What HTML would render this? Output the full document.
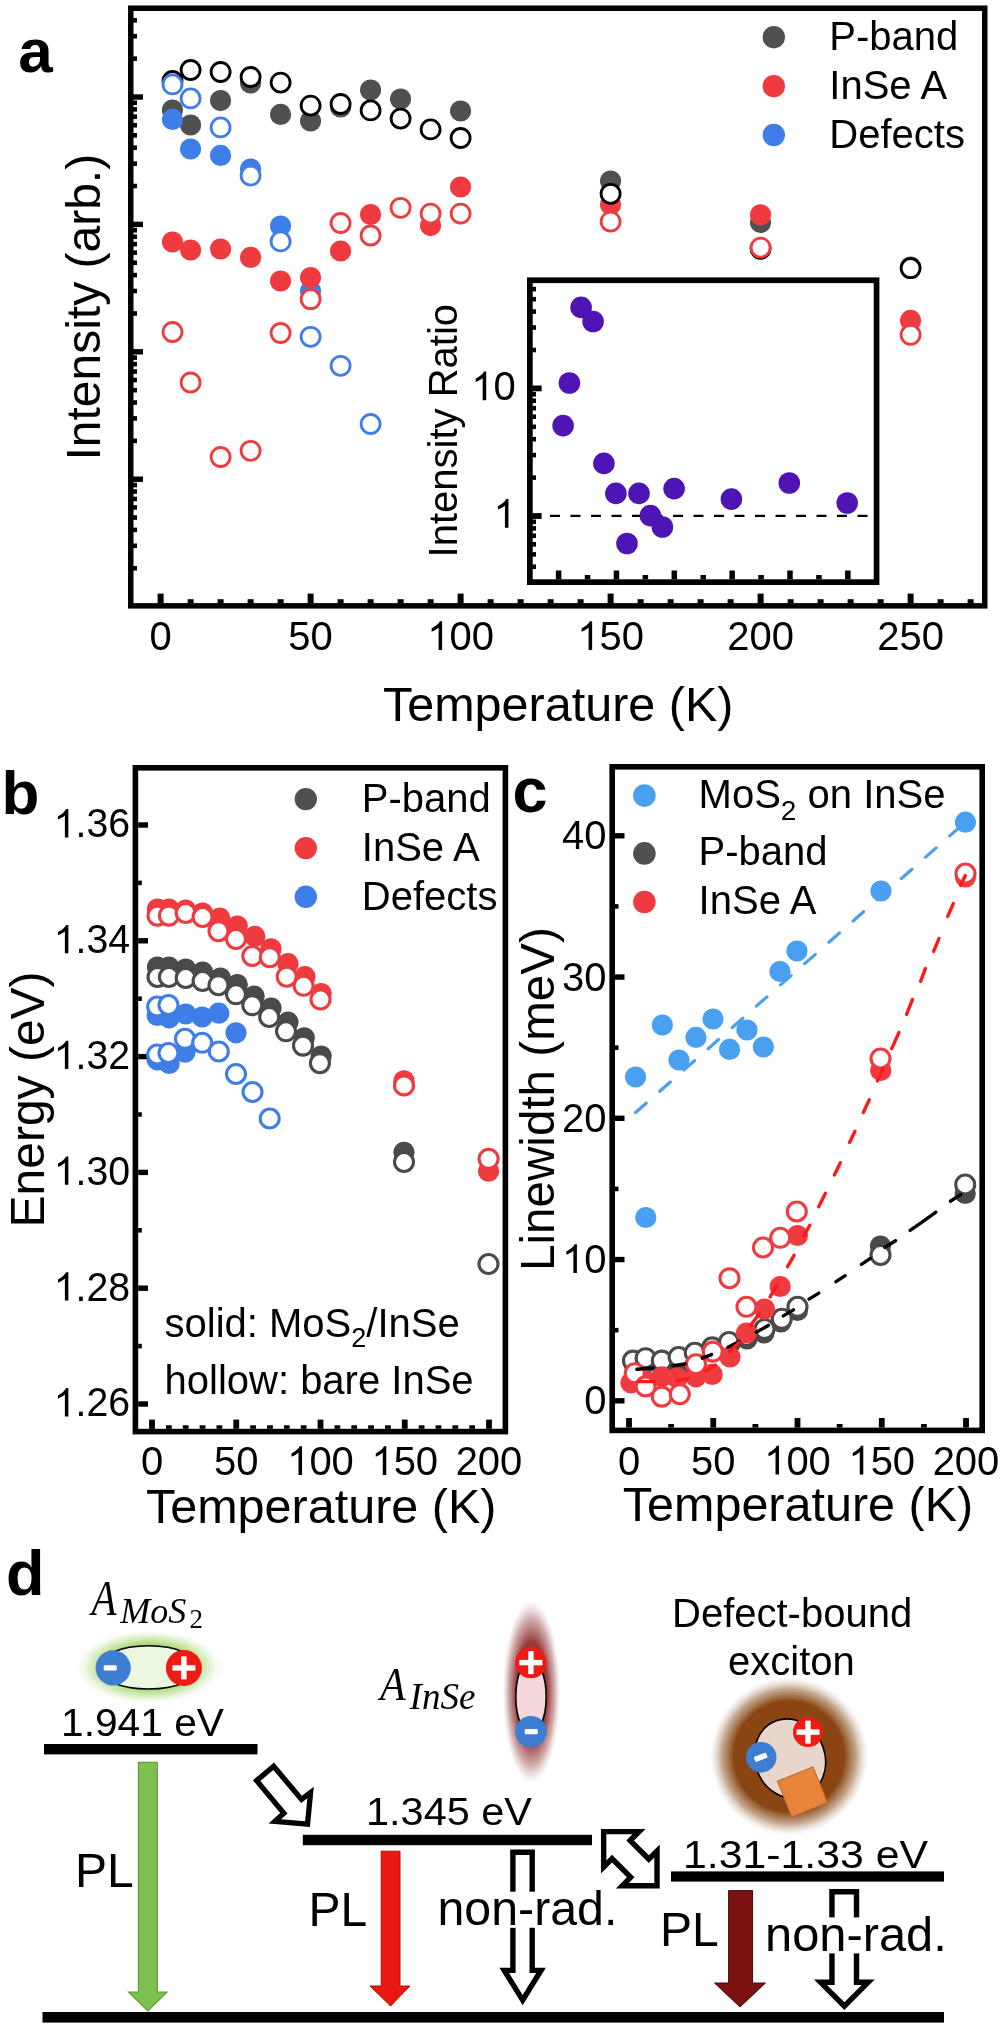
<!DOCTYPE html>
<html><head><meta charset="utf-8"><style>
html,body{margin:0;padding:0;background:#fff;width:1000px;height:2029px;overflow:hidden;}
svg{display:block;will-change:transform;}
text{font-family:"Liberation Sans",sans-serif;fill:#000;}
</style></head><body>
<svg width="1000" height="2029" viewBox="0 0 1000 2029">
<rect width="1000" height="2029" fill="#fff"/>
<rect x="130.75" y="8.25" width="854.0" height="597.6" fill="none" stroke="#000" stroke-width="5.5"/>
<rect x="133.00" y="565.95" width="4.00" height="4.60" fill="#000"/>
<rect x="133.00" y="543.51" width="4.00" height="4.60" fill="#000"/>
<rect x="133.00" y="527.60" width="4.00" height="4.60" fill="#000"/>
<rect x="133.00" y="515.25" width="4.00" height="4.60" fill="#000"/>
<rect x="133.00" y="505.16" width="4.00" height="4.60" fill="#000"/>
<rect x="133.00" y="496.63" width="4.00" height="4.60" fill="#000"/>
<rect x="133.00" y="489.25" width="4.00" height="4.60" fill="#000"/>
<rect x="133.00" y="482.73" width="4.00" height="4.60" fill="#000"/>
<rect x="133.00" y="476.50" width="10.00" height="5.40" fill="#000"/>
<rect x="133.00" y="438.55" width="4.00" height="4.60" fill="#000"/>
<rect x="133.00" y="416.11" width="4.00" height="4.60" fill="#000"/>
<rect x="133.00" y="400.20" width="4.00" height="4.60" fill="#000"/>
<rect x="133.00" y="387.85" width="4.00" height="4.60" fill="#000"/>
<rect x="133.00" y="377.76" width="4.00" height="4.60" fill="#000"/>
<rect x="133.00" y="369.23" width="4.00" height="4.60" fill="#000"/>
<rect x="133.00" y="361.85" width="4.00" height="4.60" fill="#000"/>
<rect x="133.00" y="355.33" width="4.00" height="4.60" fill="#000"/>
<rect x="133.00" y="349.10" width="10.00" height="5.40" fill="#000"/>
<rect x="133.00" y="311.15" width="4.00" height="4.60" fill="#000"/>
<rect x="133.00" y="288.71" width="4.00" height="4.60" fill="#000"/>
<rect x="133.00" y="272.80" width="4.00" height="4.60" fill="#000"/>
<rect x="133.00" y="260.45" width="4.00" height="4.60" fill="#000"/>
<rect x="133.00" y="250.36" width="4.00" height="4.60" fill="#000"/>
<rect x="133.00" y="241.83" width="4.00" height="4.60" fill="#000"/>
<rect x="133.00" y="234.45" width="4.00" height="4.60" fill="#000"/>
<rect x="133.00" y="227.93" width="4.00" height="4.60" fill="#000"/>
<rect x="133.00" y="221.70" width="10.00" height="5.40" fill="#000"/>
<rect x="133.00" y="183.75" width="4.00" height="4.60" fill="#000"/>
<rect x="133.00" y="161.31" width="4.00" height="4.60" fill="#000"/>
<rect x="133.00" y="145.40" width="4.00" height="4.60" fill="#000"/>
<rect x="133.00" y="133.05" width="4.00" height="4.60" fill="#000"/>
<rect x="133.00" y="122.96" width="4.00" height="4.60" fill="#000"/>
<rect x="133.00" y="114.43" width="4.00" height="4.60" fill="#000"/>
<rect x="133.00" y="107.05" width="4.00" height="4.60" fill="#000"/>
<rect x="133.00" y="100.53" width="4.00" height="4.60" fill="#000"/>
<rect x="133.00" y="94.30" width="10.00" height="5.40" fill="#000"/>
<rect x="133.00" y="56.35" width="4.00" height="4.60" fill="#000"/>
<rect x="133.00" y="33.91" width="4.00" height="4.60" fill="#000"/>
<rect x="133.00" y="18.00" width="4.00" height="4.60" fill="#000"/>
<rect x="157.60" y="593.60" width="6.00" height="9.90" fill="#000"/>
<rect x="187.60" y="599.20" width="6.00" height="4.30" fill="#000"/>
<rect x="217.60" y="599.20" width="6.00" height="4.30" fill="#000"/>
<rect x="247.60" y="599.20" width="6.00" height="4.30" fill="#000"/>
<rect x="277.60" y="599.20" width="6.00" height="4.30" fill="#000"/>
<rect x="307.60" y="593.60" width="6.00" height="9.90" fill="#000"/>
<rect x="337.60" y="599.20" width="6.00" height="4.30" fill="#000"/>
<rect x="367.60" y="599.20" width="6.00" height="4.30" fill="#000"/>
<rect x="397.60" y="599.20" width="6.00" height="4.30" fill="#000"/>
<rect x="427.60" y="599.20" width="6.00" height="4.30" fill="#000"/>
<rect x="457.60" y="593.60" width="6.00" height="9.90" fill="#000"/>
<rect x="487.60" y="599.20" width="6.00" height="4.30" fill="#000"/>
<rect x="517.60" y="599.20" width="6.00" height="4.30" fill="#000"/>
<rect x="547.60" y="599.20" width="6.00" height="4.30" fill="#000"/>
<rect x="577.60" y="599.20" width="6.00" height="4.30" fill="#000"/>
<rect x="607.60" y="593.60" width="6.00" height="9.90" fill="#000"/>
<rect x="637.60" y="599.20" width="6.00" height="4.30" fill="#000"/>
<rect x="667.60" y="599.20" width="6.00" height="4.30" fill="#000"/>
<rect x="697.60" y="599.20" width="6.00" height="4.30" fill="#000"/>
<rect x="727.60" y="599.20" width="6.00" height="4.30" fill="#000"/>
<rect x="757.60" y="593.60" width="6.00" height="9.90" fill="#000"/>
<rect x="787.60" y="599.20" width="6.00" height="4.30" fill="#000"/>
<rect x="817.60" y="599.20" width="6.00" height="4.30" fill="#000"/>
<rect x="847.60" y="599.20" width="6.00" height="4.30" fill="#000"/>
<rect x="877.60" y="599.20" width="6.00" height="4.30" fill="#000"/>
<rect x="907.60" y="593.60" width="6.00" height="9.90" fill="#000"/>
<rect x="937.60" y="599.20" width="6.00" height="4.30" fill="#000"/>
<rect x="967.60" y="599.20" width="6.00" height="4.30" fill="#000"/>
<text transform="translate(149.48,650.00) scale(1,1.035)" x="0" y="0" font-size="40">0</text>
<text transform="translate(288.35,650.00) scale(1,1.035)" x="0" y="0" font-size="40">50</text>
<path d="M763 0L583 0L583 1147C540 1106 483 1064 413 1023C343 982 280 951 224 931L224 1105C325 1152 413 1210 488 1278C563 1346 616 1412 647 1476L763 1476Z" transform="translate(427.23,650.00) scale(0.01953,-0.01953)" fill="#000"/>
<text transform="translate(449.48,650.00) scale(1,1.035)" x="0" y="0" font-size="40">00</text>
<path d="M763 0L583 0L583 1147C540 1106 483 1064 413 1023C343 982 280 951 224 931L224 1105C325 1152 413 1210 488 1278C563 1346 616 1412 647 1476L763 1476Z" transform="translate(577.23,650.00) scale(0.01953,-0.01953)" fill="#000"/>
<text transform="translate(599.48,650.00) scale(1,1.035)" x="0" y="0" font-size="40">50</text>
<text transform="translate(727.23,650.00) scale(1,1.035)" x="0" y="0" font-size="40">200</text>
<text transform="translate(877.23,650.00) scale(1,1.035)" x="0" y="0" font-size="40">250</text>
<text x="383.0" y="721.2" font-size="48.5" text-anchor="start" >Temperature (K)</text>
<text transform="translate(100,460.6) rotate(-90)" font-size="48">Intensity (arb.)</text>
<text x="18.3" y="71.8" font-size="62" font-weight="bold">a</text>
<circle cx="172.5" cy="110.0" r="10.6" fill="#505050"/>
<circle cx="190.6" cy="125.0" r="10.6" fill="#505050"/>
<circle cx="220.6" cy="100.6" r="10.6" fill="#505050"/>
<circle cx="250.6" cy="83.0" r="10.6" fill="#505050"/>
<circle cx="280.6" cy="114.4" r="10.6" fill="#505050"/>
<circle cx="310.6" cy="121.0" r="10.6" fill="#505050"/>
<circle cx="340.6" cy="107.0" r="10.6" fill="#505050"/>
<circle cx="370.6" cy="90.0" r="10.6" fill="#505050"/>
<circle cx="400.6" cy="99.0" r="10.6" fill="#505050"/>
<circle cx="460.6" cy="111.0" r="10.6" fill="#505050"/>
<circle cx="610.6" cy="181.0" r="10.6" fill="#505050"/>
<circle cx="760.6" cy="222.4" r="10.6" fill="#505050"/>
<circle cx="910.6" cy="267.0" r="10.6" fill="#505050"/>
<circle cx="172.5" cy="119.4" r="10.6" fill="#3f7de8"/>
<circle cx="190.6" cy="149.0" r="10.6" fill="#3f7de8"/>
<circle cx="220.6" cy="155.4" r="10.6" fill="#3f7de8"/>
<circle cx="250.6" cy="169.0" r="10.6" fill="#3f7de8"/>
<circle cx="280.6" cy="226.0" r="10.6" fill="#3f7de8"/>
<circle cx="310.6" cy="291.0" r="10.6" fill="#3f7de8"/>
<circle cx="172.5" cy="242.0" r="10.6" fill="#ef3b40"/>
<circle cx="190.6" cy="250.0" r="10.6" fill="#ef3b40"/>
<circle cx="220.6" cy="249.0" r="10.6" fill="#ef3b40"/>
<circle cx="250.6" cy="257.4" r="10.6" fill="#ef3b40"/>
<circle cx="280.6" cy="281.0" r="10.6" fill="#ef3b40"/>
<circle cx="310.6" cy="277.5" r="10.6" fill="#ef3b40"/>
<circle cx="340.6" cy="251.0" r="10.6" fill="#ef3b40"/>
<circle cx="370.6" cy="214.6" r="10.6" fill="#ef3b40"/>
<circle cx="430.6" cy="225.6" r="10.6" fill="#ef3b40"/>
<circle cx="460.6" cy="187.0" r="10.6" fill="#ef3b40"/>
<circle cx="610.6" cy="204.4" r="10.6" fill="#ef3b40"/>
<circle cx="760.6" cy="214.8" r="10.6" fill="#ef3b40"/>
<circle cx="910.6" cy="320.4" r="10.6" fill="#ef3b40"/>
<circle cx="172.5" cy="81.0" r="9.5" fill="#fff" stroke="#000" stroke-width="2.8"/>
<circle cx="190.6" cy="70.0" r="9.5" fill="#fff" stroke="#000" stroke-width="2.8"/>
<circle cx="220.6" cy="72.0" r="9.5" fill="#fff" stroke="#000" stroke-width="2.8"/>
<circle cx="250.6" cy="77.0" r="9.5" fill="#fff" stroke="#000" stroke-width="2.8"/>
<circle cx="280.6" cy="82.6" r="9.5" fill="#fff" stroke="#000" stroke-width="2.8"/>
<circle cx="310.6" cy="105.6" r="9.5" fill="#fff" stroke="#000" stroke-width="2.8"/>
<circle cx="340.6" cy="104.0" r="9.5" fill="#fff" stroke="#000" stroke-width="2.8"/>
<circle cx="370.6" cy="110.4" r="9.5" fill="#fff" stroke="#000" stroke-width="2.8"/>
<circle cx="400.6" cy="118.6" r="9.5" fill="#fff" stroke="#000" stroke-width="2.8"/>
<circle cx="430.6" cy="129.4" r="9.5" fill="#fff" stroke="#000" stroke-width="2.8"/>
<circle cx="460.6" cy="138.0" r="9.5" fill="#fff" stroke="#000" stroke-width="2.8"/>
<circle cx="610.6" cy="193.8" r="9.5" fill="#fff" stroke="#000" stroke-width="2.8"/>
<circle cx="760.6" cy="248.8" r="9.5" fill="#fff" stroke="#000" stroke-width="2.8"/>
<circle cx="910.6" cy="268.2" r="9.5" fill="#fff" stroke="#000" stroke-width="2.8"/>
<circle cx="172.5" cy="332.0" r="9.5" fill="#fff" stroke="#ef3b40" stroke-width="2.8"/>
<circle cx="190.6" cy="382.5" r="9.5" fill="#fff" stroke="#ef3b40" stroke-width="2.8"/>
<circle cx="220.6" cy="457.0" r="9.5" fill="#fff" stroke="#ef3b40" stroke-width="2.8"/>
<circle cx="250.6" cy="450.8" r="9.5" fill="#fff" stroke="#ef3b40" stroke-width="2.8"/>
<circle cx="280.6" cy="333.0" r="9.5" fill="#fff" stroke="#ef3b40" stroke-width="2.8"/>
<circle cx="310.6" cy="299.2" r="9.5" fill="#fff" stroke="#ef3b40" stroke-width="2.8"/>
<circle cx="340.6" cy="223.0" r="9.5" fill="#fff" stroke="#ef3b40" stroke-width="2.8"/>
<circle cx="370.6" cy="235.5" r="9.5" fill="#fff" stroke="#ef3b40" stroke-width="2.8"/>
<circle cx="400.6" cy="207.8" r="9.5" fill="#fff" stroke="#ef3b40" stroke-width="2.8"/>
<circle cx="430.6" cy="213.6" r="9.5" fill="#fff" stroke="#ef3b40" stroke-width="2.8"/>
<circle cx="460.6" cy="213.6" r="9.5" fill="#fff" stroke="#ef3b40" stroke-width="2.8"/>
<circle cx="610.6" cy="221.6" r="9.5" fill="#fff" stroke="#ef3b40" stroke-width="2.8"/>
<circle cx="760.6" cy="247.6" r="9.5" fill="#fff" stroke="#ef3b40" stroke-width="2.8"/>
<circle cx="910.6" cy="334.8" r="9.5" fill="#fff" stroke="#ef3b40" stroke-width="2.8"/>
<circle cx="172.5" cy="84.4" r="9.5" fill="#fff" stroke="#3f7de8" stroke-width="2.8"/>
<circle cx="190.6" cy="98.4" r="9.5" fill="#fff" stroke="#3f7de8" stroke-width="2.8"/>
<circle cx="220.6" cy="127.4" r="9.5" fill="#fff" stroke="#3f7de8" stroke-width="2.8"/>
<circle cx="250.6" cy="175.6" r="9.5" fill="#fff" stroke="#3f7de8" stroke-width="2.8"/>
<circle cx="280.6" cy="241.4" r="9.5" fill="#fff" stroke="#3f7de8" stroke-width="2.8"/>
<circle cx="310.6" cy="336.8" r="9.5" fill="#fff" stroke="#3f7de8" stroke-width="2.8"/>
<circle cx="340.6" cy="365.8" r="9.5" fill="#fff" stroke="#3f7de8" stroke-width="2.8"/>
<circle cx="370.6" cy="424.0" r="9.5" fill="#fff" stroke="#3f7de8" stroke-width="2.8"/>
<circle cx="773.8" cy="37.2" r="11.2" fill="#505050"/>
<circle cx="773.8" cy="86.2" r="11.2" fill="#ef3b40"/>
<circle cx="773.8" cy="135.0" r="11.2" fill="#3f7de8"/>
<text x="829.3" y="50.4" font-size="40" text-anchor="start" >P-band</text>
<text x="829.3" y="99.4" font-size="40" text-anchor="start" >InSe A</text>
<text x="829.3" y="148.4" font-size="40" text-anchor="start" >Defects</text>
<rect x="529.85" y="280.25" width="346.7" height="301.90000000000003" fill="#fff" stroke="#000" stroke-width="5.7"/>
<rect x="532.20" y="564.48" width="3.80" height="4.60" fill="#000"/>
<rect x="532.20" y="552.11" width="3.80" height="4.60" fill="#000"/>
<rect x="532.20" y="542.01" width="3.80" height="4.60" fill="#000"/>
<rect x="532.20" y="533.47" width="3.80" height="4.60" fill="#000"/>
<rect x="532.20" y="526.07" width="3.80" height="4.60" fill="#000"/>
<rect x="532.20" y="519.54" width="3.80" height="4.60" fill="#000"/>
<rect x="532.20" y="513.10" width="9.40" height="5.80" fill="#000"/>
<rect x="532.20" y="475.29" width="3.80" height="4.60" fill="#000"/>
<rect x="532.20" y="452.82" width="3.80" height="4.60" fill="#000"/>
<rect x="532.20" y="436.88" width="3.80" height="4.60" fill="#000"/>
<rect x="532.20" y="424.51" width="3.80" height="4.60" fill="#000"/>
<rect x="532.20" y="414.41" width="3.80" height="4.60" fill="#000"/>
<rect x="532.20" y="405.87" width="3.80" height="4.60" fill="#000"/>
<rect x="532.20" y="398.47" width="3.80" height="4.60" fill="#000"/>
<rect x="532.20" y="391.94" width="3.80" height="4.60" fill="#000"/>
<rect x="532.20" y="385.50" width="9.40" height="5.80" fill="#000"/>
<rect x="532.20" y="347.69" width="3.80" height="4.60" fill="#000"/>
<rect x="532.20" y="325.22" width="3.80" height="4.60" fill="#000"/>
<rect x="532.20" y="309.28" width="3.80" height="4.60" fill="#000"/>
<rect x="532.20" y="296.91" width="3.80" height="4.60" fill="#000"/>
<rect x="532.20" y="286.81" width="3.80" height="4.60" fill="#000"/>
<rect x="555.85" y="570.50" width="5.50" height="8.80" fill="#000"/>
<rect x="584.77" y="575.00" width="5.50" height="4.30" fill="#000"/>
<rect x="613.70" y="570.50" width="5.50" height="8.80" fill="#000"/>
<rect x="642.62" y="575.00" width="5.50" height="4.30" fill="#000"/>
<rect x="671.55" y="570.50" width="5.50" height="8.80" fill="#000"/>
<rect x="700.48" y="575.00" width="5.50" height="4.30" fill="#000"/>
<rect x="729.40" y="570.50" width="5.50" height="8.80" fill="#000"/>
<rect x="758.33" y="575.00" width="5.50" height="4.30" fill="#000"/>
<rect x="787.25" y="570.50" width="5.50" height="8.80" fill="#000"/>
<rect x="816.17" y="575.00" width="5.50" height="4.30" fill="#000"/>
<rect x="845.10" y="570.50" width="5.50" height="8.80" fill="#000"/>
<line x1="550" y1="515.9" x2="873" y2="515.9" stroke="#000" stroke-width="2.2" stroke-dasharray="10 10.5"/>
<circle cx="581.1" cy="307.4" r="10.8" fill="#4f14b4"/>
<circle cx="593.1" cy="321.5" r="10.8" fill="#4f14b4"/>
<circle cx="569.4" cy="383.0" r="10.8" fill="#4f14b4"/>
<circle cx="563.1" cy="425.6" r="10.8" fill="#4f14b4"/>
<circle cx="603.9" cy="463.4" r="10.8" fill="#4f14b4"/>
<circle cx="615.9" cy="493.4" r="10.8" fill="#4f14b4"/>
<circle cx="639.0" cy="493.4" r="10.8" fill="#4f14b4"/>
<circle cx="650.4" cy="515.6" r="10.8" fill="#4f14b4"/>
<circle cx="662.4" cy="527.0" r="10.8" fill="#4f14b4"/>
<circle cx="627.0" cy="543.5" r="10.8" fill="#4f14b4"/>
<circle cx="674.1" cy="488.6" r="10.8" fill="#4f14b4"/>
<circle cx="731.4" cy="499.1" r="10.8" fill="#4f14b4"/>
<circle cx="789.3" cy="483.0" r="10.8" fill="#4f14b4"/>
<circle cx="847.2" cy="503.0" r="10.8" fill="#4f14b4"/>
<path d="M763 0L583 0L583 1147C540 1106 483 1064 413 1023C343 982 280 951 224 931L224 1105C325 1152 413 1210 488 1278C563 1346 616 1412 647 1476L763 1476Z" transform="translate(471.31,400.30) scale(0.01953,-0.01953)" fill="#000"/>
<text transform="translate(493.55,400.30) scale(1,1.035)" x="0" y="0" font-size="40">0</text>
<path d="M763 0L583 0L583 1147C540 1106 483 1064 413 1023C343 982 280 951 224 931L224 1105C325 1152 413 1210 488 1278C563 1346 616 1412 647 1476L763 1476Z" transform="translate(493.55,527.80) scale(0.01953,-0.01953)" fill="#000"/>
<text transform="translate(456.6,557.4) rotate(-90)" font-size="40">Intensity Ratio</text>
<rect x="135.4" y="767.8" width="370.0" height="663.8000000000001" fill="none" stroke="#000" stroke-width="5.6"/>
<rect x="138.20" y="822.30" width="9.80" height="5.40" fill="#000"/>
<path d="M763 0L583 0L583 1147C540 1106 483 1064 413 1023C343 982 280 951 224 931L224 1105C325 1152 413 1210 488 1278C563 1346 616 1412 647 1476L763 1476Z" transform="translate(53.71,837.40) scale(0.01919,-0.01919)" fill="#000"/>
<text transform="translate(75.57,837.40) scale(1,1.035)" x="0" y="0" font-size="39.3">.36</text>
<rect x="138.20" y="938.10" width="9.80" height="5.40" fill="#000"/>
<path d="M763 0L583 0L583 1147C540 1106 483 1064 413 1023C343 982 280 951 224 931L224 1105C325 1152 413 1210 488 1278C563 1346 616 1412 647 1476L763 1476Z" transform="translate(53.71,953.20) scale(0.01919,-0.01919)" fill="#000"/>
<text transform="translate(75.57,953.20) scale(1,1.035)" x="0" y="0" font-size="39.3">.34</text>
<rect x="138.20" y="880.60" width="3.60" height="4.60" fill="#000"/>
<rect x="138.20" y="1053.90" width="9.80" height="5.40" fill="#000"/>
<path d="M763 0L583 0L583 1147C540 1106 483 1064 413 1023C343 982 280 951 224 931L224 1105C325 1152 413 1210 488 1278C563 1346 616 1412 647 1476L763 1476Z" transform="translate(53.71,1069.00) scale(0.01919,-0.01919)" fill="#000"/>
<text transform="translate(75.57,1069.00) scale(1,1.035)" x="0" y="0" font-size="39.3">.32</text>
<rect x="138.20" y="996.40" width="3.60" height="4.60" fill="#000"/>
<rect x="138.20" y="1169.70" width="9.80" height="5.40" fill="#000"/>
<path d="M763 0L583 0L583 1147C540 1106 483 1064 413 1023C343 982 280 951 224 931L224 1105C325 1152 413 1210 488 1278C563 1346 616 1412 647 1476L763 1476Z" transform="translate(53.71,1184.80) scale(0.01919,-0.01919)" fill="#000"/>
<text transform="translate(75.57,1184.80) scale(1,1.035)" x="0" y="0" font-size="39.3">.30</text>
<rect x="138.20" y="1112.20" width="3.60" height="4.60" fill="#000"/>
<rect x="138.20" y="1285.50" width="9.80" height="5.40" fill="#000"/>
<path d="M763 0L583 0L583 1147C540 1106 483 1064 413 1023C343 982 280 951 224 931L224 1105C325 1152 413 1210 488 1278C563 1346 616 1412 647 1476L763 1476Z" transform="translate(53.71,1300.60) scale(0.01919,-0.01919)" fill="#000"/>
<text transform="translate(75.57,1300.60) scale(1,1.035)" x="0" y="0" font-size="39.3">.28</text>
<rect x="138.20" y="1228.00" width="3.60" height="4.60" fill="#000"/>
<rect x="138.20" y="1401.30" width="9.80" height="5.40" fill="#000"/>
<path d="M763 0L583 0L583 1147C540 1106 483 1064 413 1023C343 982 280 951 224 931L224 1105C325 1152 413 1210 488 1278C563 1346 616 1412 647 1476L763 1476Z" transform="translate(53.71,1416.40) scale(0.01919,-0.01919)" fill="#000"/>
<text transform="translate(75.57,1416.40) scale(1,1.035)" x="0" y="0" font-size="39.3">.26</text>
<rect x="138.20" y="1343.80" width="3.60" height="4.60" fill="#000"/>
<rect x="149.10" y="1419.60" width="5.80" height="9.20" fill="#000"/>
<rect x="165.95" y="1425.30" width="5.80" height="3.50" fill="#000"/>
<rect x="182.80" y="1425.30" width="5.80" height="3.50" fill="#000"/>
<rect x="199.65" y="1425.30" width="5.80" height="3.50" fill="#000"/>
<rect x="216.50" y="1425.30" width="5.80" height="3.50" fill="#000"/>
<rect x="233.35" y="1419.60" width="5.80" height="9.20" fill="#000"/>
<rect x="250.20" y="1425.30" width="5.80" height="3.50" fill="#000"/>
<rect x="267.05" y="1425.30" width="5.80" height="3.50" fill="#000"/>
<rect x="283.90" y="1425.30" width="5.80" height="3.50" fill="#000"/>
<rect x="300.75" y="1425.30" width="5.80" height="3.50" fill="#000"/>
<rect x="317.60" y="1419.60" width="5.80" height="9.20" fill="#000"/>
<rect x="334.45" y="1425.30" width="5.80" height="3.50" fill="#000"/>
<rect x="351.30" y="1425.30" width="5.80" height="3.50" fill="#000"/>
<rect x="368.15" y="1425.30" width="5.80" height="3.50" fill="#000"/>
<rect x="385.00" y="1425.30" width="5.80" height="3.50" fill="#000"/>
<rect x="401.85" y="1419.60" width="5.80" height="9.20" fill="#000"/>
<rect x="418.70" y="1425.30" width="5.80" height="3.50" fill="#000"/>
<rect x="435.55" y="1425.30" width="5.80" height="3.50" fill="#000"/>
<rect x="452.40" y="1425.30" width="5.80" height="3.50" fill="#000"/>
<rect x="469.25" y="1425.30" width="5.80" height="3.50" fill="#000"/>
<rect x="486.10" y="1419.60" width="5.80" height="9.20" fill="#000"/>
<text transform="translate(140.88,1475.00) scale(1,1.035)" x="0" y="0" font-size="40">0</text>
<text transform="translate(214.00,1475.00) scale(1,1.035)" x="0" y="0" font-size="40">50</text>
<path d="M763 0L583 0L583 1147C540 1106 483 1064 413 1023C343 982 280 951 224 931L224 1105C325 1152 413 1210 488 1278C563 1346 616 1412 647 1476L763 1476Z" transform="translate(287.13,1475.00) scale(0.01953,-0.01953)" fill="#000"/>
<text transform="translate(309.38,1475.00) scale(1,1.035)" x="0" y="0" font-size="40">00</text>
<path d="M763 0L583 0L583 1147C540 1106 483 1064 413 1023C343 982 280 951 224 931L224 1105C325 1152 413 1210 488 1278C563 1346 616 1412 647 1476L763 1476Z" transform="translate(371.38,1475.00) scale(0.01953,-0.01953)" fill="#000"/>
<text transform="translate(393.63,1475.00) scale(1,1.035)" x="0" y="0" font-size="40">50</text>
<text transform="translate(455.63,1475.00) scale(1,1.035)" x="0" y="0" font-size="40">200</text>
<text x="146.0" y="1523.0" font-size="48.5" text-anchor="start" >Temperature (K)</text>
<text transform="translate(44.2,1227.5) rotate(-90)" font-size="48">Energy (eV)</text>
<text x="1.5" y="813.5" font-size="62" font-weight="bold">b</text>
<circle cx="157.5" cy="967.0" r="10.6" fill="#4a4a4a"/>
<circle cx="168.9" cy="967.0" r="10.6" fill="#4a4a4a"/>
<circle cx="185.7" cy="969.0" r="10.6" fill="#4a4a4a"/>
<circle cx="202.6" cy="972.0" r="10.6" fill="#4a4a4a"/>
<circle cx="220.4" cy="978.0" r="10.6" fill="#4a4a4a"/>
<circle cx="237.3" cy="984.5" r="10.6" fill="#4a4a4a"/>
<circle cx="254.2" cy="996.2" r="10.6" fill="#4a4a4a"/>
<circle cx="271.1" cy="1008.0" r="10.6" fill="#4a4a4a"/>
<circle cx="288.0" cy="1022.2" r="10.6" fill="#4a4a4a"/>
<circle cx="304.3" cy="1037.8" r="10.6" fill="#4a4a4a"/>
<circle cx="321.2" cy="1056.0" r="10.6" fill="#4a4a4a"/>
<circle cx="404.0" cy="1152.3" r="10.6" fill="#4a4a4a"/>
<circle cx="157.5" cy="909.0" r="10.6" fill="#ef3b40"/>
<circle cx="168.9" cy="909.0" r="10.6" fill="#ef3b40"/>
<circle cx="185.7" cy="910.0" r="10.6" fill="#ef3b40"/>
<circle cx="202.6" cy="913.0" r="10.6" fill="#ef3b40"/>
<circle cx="219.8" cy="918.2" r="10.6" fill="#ef3b40"/>
<circle cx="237.3" cy="926.0" r="10.6" fill="#ef3b40"/>
<circle cx="254.9" cy="936.4" r="10.6" fill="#ef3b40"/>
<circle cx="271.0" cy="948.8" r="10.6" fill="#ef3b40"/>
<circle cx="288.0" cy="963.7" r="10.6" fill="#ef3b40"/>
<circle cx="305.0" cy="976.7" r="10.6" fill="#ef3b40"/>
<circle cx="321.2" cy="993.6" r="10.6" fill="#ef3b40"/>
<circle cx="404.0" cy="1080.8" r="10.6" fill="#ef3b40"/>
<circle cx="488.6" cy="1171.2" r="10.6" fill="#ef3b40"/>
<circle cx="157.2" cy="1015.5" r="10.6" fill="#3f7de8"/>
<circle cx="169.2" cy="1017.8" r="10.6" fill="#3f7de8"/>
<circle cx="185.8" cy="1014.0" r="10.6" fill="#3f7de8"/>
<circle cx="202.2" cy="1017.0" r="10.6" fill="#3f7de8"/>
<circle cx="218.8" cy="1013.2" r="10.6" fill="#3f7de8"/>
<circle cx="236.0" cy="1032.8" r="10.6" fill="#3f7de8"/>
<circle cx="157.2" cy="1059.8" r="10.6" fill="#3f7de8"/>
<circle cx="169.2" cy="1063.5" r="10.6" fill="#3f7de8"/>
<circle cx="185.0" cy="1052.2" r="10.6" fill="#3f7de8"/>
<circle cx="157.5" cy="977.0" r="9.5" fill="#fff" stroke="#4a4a4a" stroke-width="3.1"/>
<circle cx="168.9" cy="977.0" r="9.5" fill="#fff" stroke="#4a4a4a" stroke-width="3.1"/>
<circle cx="185.7" cy="978.0" r="9.5" fill="#fff" stroke="#4a4a4a" stroke-width="3.1"/>
<circle cx="202.6" cy="981.0" r="9.5" fill="#fff" stroke="#4a4a4a" stroke-width="3.1"/>
<circle cx="218.5" cy="985.2" r="9.5" fill="#fff" stroke="#4a4a4a" stroke-width="3.1"/>
<circle cx="236.0" cy="994.3" r="9.5" fill="#fff" stroke="#4a4a4a" stroke-width="3.1"/>
<circle cx="252.3" cy="1005.3" r="9.5" fill="#fff" stroke="#4a4a4a" stroke-width="3.1"/>
<circle cx="269.2" cy="1017.0" r="9.5" fill="#fff" stroke="#4a4a4a" stroke-width="3.1"/>
<circle cx="286.0" cy="1031.3" r="9.5" fill="#fff" stroke="#4a4a4a" stroke-width="3.1"/>
<circle cx="303.0" cy="1045.6" r="9.5" fill="#fff" stroke="#4a4a4a" stroke-width="3.1"/>
<circle cx="319.9" cy="1063.2" r="9.5" fill="#fff" stroke="#4a4a4a" stroke-width="3.1"/>
<circle cx="404.0" cy="1162.0" r="9.5" fill="#fff" stroke="#4a4a4a" stroke-width="3.1"/>
<circle cx="488.5" cy="1264.0" r="9.5" fill="#fff" stroke="#4a4a4a" stroke-width="3.1"/>
<circle cx="157.5" cy="915.6" r="9.5" fill="#fff" stroke="#ef3b40" stroke-width="3.1"/>
<circle cx="168.9" cy="915.6" r="9.5" fill="#fff" stroke="#ef3b40" stroke-width="3.1"/>
<circle cx="185.7" cy="913.0" r="9.5" fill="#fff" stroke="#ef3b40" stroke-width="3.1"/>
<circle cx="202.6" cy="917.0" r="9.5" fill="#fff" stroke="#ef3b40" stroke-width="3.1"/>
<circle cx="218.5" cy="931.2" r="9.5" fill="#fff" stroke="#ef3b40" stroke-width="3.1"/>
<circle cx="236.0" cy="939.0" r="9.5" fill="#fff" stroke="#ef3b40" stroke-width="3.1"/>
<circle cx="252.3" cy="956.0" r="9.5" fill="#fff" stroke="#ef3b40" stroke-width="3.1"/>
<circle cx="269.8" cy="957.2" r="9.5" fill="#fff" stroke="#ef3b40" stroke-width="3.1"/>
<circle cx="286.7" cy="976.7" r="9.5" fill="#fff" stroke="#ef3b40" stroke-width="3.1"/>
<circle cx="303.6" cy="985.8" r="9.5" fill="#fff" stroke="#ef3b40" stroke-width="3.1"/>
<circle cx="320.5" cy="999.5" r="9.5" fill="#fff" stroke="#ef3b40" stroke-width="3.1"/>
<circle cx="404.0" cy="1085.4" r="9.5" fill="#fff" stroke="#ef3b40" stroke-width="3.1"/>
<circle cx="488.6" cy="1158.8" r="9.5" fill="#fff" stroke="#ef3b40" stroke-width="3.1"/>
<circle cx="157.2" cy="1006.5" r="9.5" fill="#fff" stroke="#3f7de8" stroke-width="3.1"/>
<circle cx="168.5" cy="1005.0" r="9.5" fill="#fff" stroke="#3f7de8" stroke-width="3.1"/>
<circle cx="157.2" cy="1054.5" r="9.5" fill="#fff" stroke="#3f7de8" stroke-width="3.1"/>
<circle cx="168.5" cy="1053.0" r="9.5" fill="#fff" stroke="#3f7de8" stroke-width="3.1"/>
<circle cx="185.0" cy="1038.8" r="9.5" fill="#fff" stroke="#3f7de8" stroke-width="3.1"/>
<circle cx="202.2" cy="1042.8" r="9.5" fill="#fff" stroke="#3f7de8" stroke-width="3.1"/>
<circle cx="218.8" cy="1051.5" r="9.5" fill="#fff" stroke="#3f7de8" stroke-width="3.1"/>
<circle cx="236.0" cy="1074.0" r="9.5" fill="#fff" stroke="#3f7de8" stroke-width="3.1"/>
<circle cx="252.5" cy="1092.0" r="9.5" fill="#fff" stroke="#3f7de8" stroke-width="3.1"/>
<circle cx="269.7" cy="1118.5" r="9.5" fill="#fff" stroke="#3f7de8" stroke-width="3.1"/>
<circle cx="305.8" cy="799.1" r="11.2" fill="#505050"/>
<circle cx="305.8" cy="848.1" r="11.2" fill="#ef3b40"/>
<circle cx="305.8" cy="896.8" r="11.2" fill="#3f7de8"/>
<text x="361.8" y="812.4" font-size="40" text-anchor="start" >P-band</text>
<text x="361.8" y="861.2" font-size="40" text-anchor="start" >InSe A</text>
<text x="361.8" y="909.5" font-size="40" text-anchor="start" >Defects</text>
<text x="164.5" y="1336.6" font-size="40" text-anchor="start" >solid: MoS<tspan font-size="27" dy="10">2</tspan><tspan dy="-10">/InSe</tspan></text>
<text x="164.5" y="1393.7" font-size="40" text-anchor="start" >hollow: bare InSe</text>
<rect x="612.1999999999999" y="766.8" width="370.0" height="663.6" fill="none" stroke="#000" stroke-width="5.6"/>
<rect x="615.00" y="1398.10" width="9.50" height="5.40" fill="#000"/>
<text transform="translate(584.25,1414.30) scale(1,1.035)" x="0" y="0" font-size="40">0</text>
<rect x="615.00" y="1327.88" width="3.50" height="4.60" fill="#000"/>
<rect x="615.00" y="1256.85" width="9.50" height="5.40" fill="#000"/>
<path d="M763 0L583 0L583 1147C540 1106 483 1064 413 1023C343 982 280 951 224 931L224 1105C325 1152 413 1210 488 1278C563 1346 616 1412 647 1476L763 1476Z" transform="translate(562.01,1273.05) scale(0.01953,-0.01953)" fill="#000"/>
<text transform="translate(584.25,1273.05) scale(1,1.035)" x="0" y="0" font-size="40">0</text>
<rect x="615.00" y="1186.62" width="3.50" height="4.60" fill="#000"/>
<rect x="615.00" y="1115.60" width="9.50" height="5.40" fill="#000"/>
<text transform="translate(562.01,1131.80) scale(1,1.035)" x="0" y="0" font-size="40">20</text>
<rect x="615.00" y="1045.38" width="3.50" height="4.60" fill="#000"/>
<rect x="615.00" y="974.35" width="9.50" height="5.40" fill="#000"/>
<text transform="translate(562.01,990.55) scale(1,1.035)" x="0" y="0" font-size="40">30</text>
<rect x="615.00" y="904.12" width="3.50" height="4.60" fill="#000"/>
<rect x="615.00" y="833.10" width="9.50" height="5.40" fill="#000"/>
<text transform="translate(562.01,849.30) scale(1,1.035)" x="0" y="0" font-size="40">40</text>
<rect x="626.10" y="1418.00" width="5.80" height="9.60" fill="#000"/>
<rect x="668.23" y="1424.00" width="5.80" height="3.60" fill="#000"/>
<rect x="710.35" y="1418.00" width="5.80" height="9.60" fill="#000"/>
<rect x="752.48" y="1424.00" width="5.80" height="3.60" fill="#000"/>
<rect x="794.60" y="1418.00" width="5.80" height="9.60" fill="#000"/>
<rect x="836.73" y="1424.00" width="5.80" height="3.60" fill="#000"/>
<rect x="878.85" y="1418.00" width="5.80" height="9.60" fill="#000"/>
<rect x="920.98" y="1424.00" width="5.80" height="3.60" fill="#000"/>
<rect x="963.10" y="1418.00" width="5.80" height="9.60" fill="#000"/>
<text transform="translate(617.88,1474.50) scale(1,1.035)" x="0" y="0" font-size="40">0</text>
<text transform="translate(691.00,1474.50) scale(1,1.035)" x="0" y="0" font-size="40">50</text>
<path d="M763 0L583 0L583 1147C540 1106 483 1064 413 1023C343 982 280 951 224 931L224 1105C325 1152 413 1210 488 1278C563 1346 616 1412 647 1476L763 1476Z" transform="translate(764.13,1474.50) scale(0.01953,-0.01953)" fill="#000"/>
<text transform="translate(786.38,1474.50) scale(1,1.035)" x="0" y="0" font-size="40">00</text>
<path d="M763 0L583 0L583 1147C540 1106 483 1064 413 1023C343 982 280 951 224 931L224 1105C325 1152 413 1210 488 1278C563 1346 616 1412 647 1476L763 1476Z" transform="translate(848.38,1474.50) scale(0.01953,-0.01953)" fill="#000"/>
<text transform="translate(870.63,1474.50) scale(1,1.035)" x="0" y="0" font-size="40">50</text>
<text transform="translate(932.63,1474.50) scale(1,1.035)" x="0" y="0" font-size="40">200</text>
<text x="622.8" y="1520.8" font-size="48.5" text-anchor="start" >Temperature (K)</text>
<text transform="translate(554.3,1271) rotate(-90)" font-size="47.6">Linewidth (meV)</text>
<text x="512.4" y="811.5" font-size="63" font-weight="bold">c</text>
<circle cx="634.0" cy="1364.0" r="10.6" fill="#4a4a4a"/>
<circle cx="645.6" cy="1363.0" r="10.6" fill="#4a4a4a"/>
<circle cx="662.0" cy="1366.0" r="10.6" fill="#4a4a4a"/>
<circle cx="677.4" cy="1369.6" r="10.6" fill="#4a4a4a"/>
<circle cx="696.0" cy="1358.0" r="10.6" fill="#4a4a4a"/>
<circle cx="713.0" cy="1350.0" r="10.6" fill="#4a4a4a"/>
<circle cx="730.0" cy="1344.0" r="10.6" fill="#4a4a4a"/>
<circle cx="747.0" cy="1339.0" r="10.6" fill="#4a4a4a"/>
<circle cx="764.0" cy="1333.0" r="10.6" fill="#4a4a4a"/>
<circle cx="781.0" cy="1322.0" r="10.6" fill="#4a4a4a"/>
<circle cx="797.5" cy="1310.5" r="10.6" fill="#4a4a4a"/>
<circle cx="880.5" cy="1246.0" r="10.6" fill="#4a4a4a"/>
<circle cx="965.2" cy="1193.5" r="10.6" fill="#4a4a4a"/>
<circle cx="633.0" cy="1360.6" r="9.5" fill="#fff" stroke="#4a4a4a" stroke-width="3.1"/>
<circle cx="645.6" cy="1358.2" r="9.5" fill="#fff" stroke="#4a4a4a" stroke-width="3.1"/>
<circle cx="661.8" cy="1360.6" r="9.5" fill="#fff" stroke="#4a4a4a" stroke-width="3.1"/>
<circle cx="678.6" cy="1357.0" r="9.5" fill="#fff" stroke="#4a4a4a" stroke-width="3.1"/>
<circle cx="694.8" cy="1352.8" r="9.5" fill="#fff" stroke="#4a4a4a" stroke-width="3.1"/>
<circle cx="712.2" cy="1347.4" r="9.5" fill="#fff" stroke="#4a4a4a" stroke-width="3.1"/>
<circle cx="729.0" cy="1342.0" r="9.5" fill="#fff" stroke="#4a4a4a" stroke-width="3.1"/>
<circle cx="746.5" cy="1336.0" r="9.5" fill="#fff" stroke="#4a4a4a" stroke-width="3.1"/>
<circle cx="764.5" cy="1329.0" r="9.5" fill="#fff" stroke="#4a4a4a" stroke-width="3.1"/>
<circle cx="781.8" cy="1318.8" r="9.5" fill="#fff" stroke="#4a4a4a" stroke-width="3.1"/>
<circle cx="797.5" cy="1306.8" r="9.5" fill="#fff" stroke="#4a4a4a" stroke-width="3.1"/>
<circle cx="880.5" cy="1255.0" r="9.5" fill="#fff" stroke="#4a4a4a" stroke-width="3.1"/>
<circle cx="965.2" cy="1184.5" r="9.5" fill="#fff" stroke="#4a4a4a" stroke-width="3.1"/>
<circle cx="631.0" cy="1382.8" r="10.6" fill="#ef3b40"/>
<circle cx="645.6" cy="1381.0" r="10.6" fill="#ef3b40"/>
<circle cx="661.8" cy="1376.8" r="10.6" fill="#ef3b40"/>
<circle cx="677.4" cy="1378.0" r="10.6" fill="#ef3b40"/>
<circle cx="696.0" cy="1376.8" r="10.6" fill="#ef3b40"/>
<circle cx="712.2" cy="1374.4" r="10.6" fill="#ef3b40"/>
<circle cx="730.0" cy="1357.0" r="10.6" fill="#ef3b40"/>
<circle cx="746.5" cy="1333.0" r="10.6" fill="#ef3b40"/>
<circle cx="764.5" cy="1309.0" r="10.6" fill="#ef3b40"/>
<circle cx="780.2" cy="1286.5" r="10.6" fill="#ef3b40"/>
<circle cx="797.5" cy="1235.5" r="10.6" fill="#ef3b40"/>
<circle cx="880.8" cy="1070.5" r="10.6" fill="#ef3b40"/>
<circle cx="965.5" cy="877.0" r="10.6" fill="#ef3b40"/>
<circle cx="634.8" cy="1373.2" r="9.5" fill="#fff" stroke="#ef3b40" stroke-width="3.1"/>
<circle cx="645.6" cy="1386.4" r="9.5" fill="#fff" stroke="#ef3b40" stroke-width="3.1"/>
<circle cx="661.8" cy="1396.6" r="9.5" fill="#fff" stroke="#ef3b40" stroke-width="3.1"/>
<circle cx="679.8" cy="1394.2" r="9.5" fill="#fff" stroke="#ef3b40" stroke-width="3.1"/>
<circle cx="696.0" cy="1364.2" r="9.5" fill="#fff" stroke="#ef3b40" stroke-width="3.1"/>
<circle cx="712.8" cy="1351.6" r="9.5" fill="#fff" stroke="#ef3b40" stroke-width="3.1"/>
<circle cx="729.5" cy="1278.2" r="9.5" fill="#fff" stroke="#ef3b40" stroke-width="3.1"/>
<circle cx="746.5" cy="1306.8" r="9.5" fill="#fff" stroke="#ef3b40" stroke-width="3.1"/>
<circle cx="763.0" cy="1247.5" r="9.5" fill="#fff" stroke="#ef3b40" stroke-width="3.1"/>
<circle cx="780.2" cy="1237.8" r="9.5" fill="#fff" stroke="#ef3b40" stroke-width="3.1"/>
<circle cx="796.8" cy="1211.5" r="9.5" fill="#fff" stroke="#ef3b40" stroke-width="3.1"/>
<circle cx="880.5" cy="1058.5" r="9.5" fill="#fff" stroke="#ef3b40" stroke-width="3.1"/>
<circle cx="965.5" cy="873.5" r="9.5" fill="#fff" stroke="#ef3b40" stroke-width="3.1"/>
<circle cx="635.6" cy="1077.0" r="10.6" fill="#4aa0f0"/>
<circle cx="645.8" cy="1217.5" r="10.6" fill="#4aa0f0"/>
<circle cx="662.4" cy="1025.0" r="10.6" fill="#4aa0f0"/>
<circle cx="679.0" cy="1060.0" r="10.6" fill="#4aa0f0"/>
<circle cx="696.0" cy="1037.4" r="10.6" fill="#4aa0f0"/>
<circle cx="713.0" cy="1019.0" r="10.6" fill="#4aa0f0"/>
<circle cx="729.6" cy="1049.4" r="10.6" fill="#4aa0f0"/>
<circle cx="747.0" cy="1030.0" r="10.6" fill="#4aa0f0"/>
<circle cx="763.4" cy="1047.0" r="10.6" fill="#4aa0f0"/>
<circle cx="780.0" cy="971.5" r="10.6" fill="#4aa0f0"/>
<circle cx="797.0" cy="951.0" r="10.6" fill="#4aa0f0"/>
<circle cx="881.0" cy="891.0" r="10.6" fill="#4aa0f0"/>
<circle cx="965.5" cy="822.2" r="10.6" fill="#4aa0f0"/>
<polyline points="636.9,1369.3 653.3,1367.9" fill="none" stroke="#000" stroke-width="3.4" stroke-linecap="round" stroke-linejoin="round"/>
<polyline points="672.9,1365.7 685.1,1363.9" fill="none" stroke="#000" stroke-width="3.4" stroke-linecap="round" stroke-linejoin="round"/>
<polyline points="702.2,1358.2 711.6,1354.6" fill="none" stroke="#000" stroke-width="3.4" stroke-linecap="round" stroke-linejoin="round"/>
<polyline points="727.9,1347.2 739.3,1341.6" fill="none" stroke="#000" stroke-width="3.4" stroke-linecap="round" stroke-linejoin="round"/>
<polyline points="756.3,1332.2 768.3,1325.4" fill="none" stroke="#000" stroke-width="3.4" stroke-linecap="round" stroke-linejoin="round"/>
<polyline points="783.3,1315.9 793.5,1309.9" fill="none" stroke="#000" stroke-width="3.4" stroke-linecap="round" stroke-linejoin="round"/>
<polyline points="809.0,1299.1 818.8,1293.1" fill="none" stroke="#000" stroke-width="3.4" stroke-linecap="round" stroke-linejoin="round"/>
<polyline points="836.0,1281.7 845.2,1275.7" fill="none" stroke="#000" stroke-width="3.4" stroke-linecap="round" stroke-linejoin="round"/>
<polyline points="861.4,1264.3 870.3,1258.3" fill="none" stroke="#000" stroke-width="3.4" stroke-linecap="round" stroke-linejoin="round"/>
<polyline points="884.8,1247.4 895.6,1240.7" fill="none" stroke="#000" stroke-width="3.4" stroke-linecap="round" stroke-linejoin="round"/>
<polyline points="910.1,1230.4 922.4,1221.9 935.9,1212.2" fill="none" stroke="#000" stroke-width="3.4" stroke-linecap="round" stroke-linejoin="round"/>
<polyline points="950.4,1201.2 960.6,1194.6" fill="none" stroke="#000" stroke-width="3.4" stroke-linecap="round" stroke-linejoin="round"/>
<polyline points="637.5,1381.6 653.9,1381.6" fill="none" stroke="#ff1a1a" stroke-width="3.4" stroke-linecap="round" stroke-linejoin="round"/>
<polyline points="677.1,1380.7 688.7,1378.3" fill="none" stroke="#ff1a1a" stroke-width="3.4" stroke-linecap="round" stroke-linejoin="round"/>
<polyline points="705.6,1371.1 715.4,1365.1" fill="none" stroke="#ff1a1a" stroke-width="3.4" stroke-linecap="round" stroke-linejoin="round"/>
<polyline points="729.4,1351.6 739.0,1342.6" fill="none" stroke="#ff1a1a" stroke-width="3.4" stroke-linecap="round" stroke-linejoin="round"/>
<polyline points="750.4,1325.6 759.2,1314.0" fill="none" stroke="#ff1a1a" stroke-width="3.4" stroke-linecap="round" stroke-linejoin="round"/>
<polyline points="770.1,1296.8 777.3,1285.2" fill="none" stroke="#ff1a1a" stroke-width="3.4" stroke-linecap="round" stroke-linejoin="round"/>
<polyline points="787.5,1266.7 794.1,1255.3" fill="none" stroke="#ff1a1a" stroke-width="3.4" stroke-linecap="round" stroke-linejoin="round"/>
<polyline points="803.6,1236.1 809.8,1225.3" fill="none" stroke="#ff1a1a" stroke-width="3.4" stroke-linecap="round" stroke-linejoin="round"/>
<polyline points="818.6,1206.7 825.5,1193.3" fill="none" stroke="#ff1a1a" stroke-width="3.4" stroke-linecap="round" stroke-linejoin="round"/>
<polyline points="834.4,1174.9 840.4,1162.7" fill="none" stroke="#ff1a1a" stroke-width="3.4" stroke-linecap="round" stroke-linejoin="round"/>
<polyline points="849.5,1142.5 855.0,1131.2" fill="none" stroke="#ff1a1a" stroke-width="3.4" stroke-linecap="round" stroke-linejoin="round"/>
<polyline points="863.3,1112.5 869.3,1099.7" fill="none" stroke="#ff1a1a" stroke-width="3.4" stroke-linecap="round" stroke-linejoin="round"/>
<polyline points="877.4,1081.0 882.8,1069.0" fill="none" stroke="#ff1a1a" stroke-width="3.4" stroke-linecap="round" stroke-linejoin="round"/>
<polyline points="891.7,1048.6 898.9,1032.6" fill="none" stroke="#ff1a1a" stroke-width="3.4" stroke-linecap="round" stroke-linejoin="round"/>
<polyline points="906.6,1014.4 912.4,999.6" fill="none" stroke="#ff1a1a" stroke-width="3.4" stroke-linecap="round" stroke-linejoin="round"/>
<polyline points="920.6,981.4 925.4,968.6" fill="none" stroke="#ff1a1a" stroke-width="3.4" stroke-linecap="round" stroke-linejoin="round"/>
<polyline points="933.6,951.4 939.0,938.6" fill="none" stroke="#ff1a1a" stroke-width="3.4" stroke-linecap="round" stroke-linejoin="round"/>
<polyline points="947.7,916.4 953.3,903.6" fill="none" stroke="#ff1a1a" stroke-width="3.4" stroke-linecap="round" stroke-linejoin="round"/>
<polyline points="960.7,885.5 965.3,875.5" fill="none" stroke="#ff1a1a" stroke-width="3.4" stroke-linecap="round" stroke-linejoin="round"/>
<polyline points="634.0,1114.0 965.5,822.0" fill="none" stroke="#4aa0f0" stroke-width="3.2" stroke-linecap="round" stroke-dasharray="14 18.2" stroke-dashoffset="30.03"/>
<circle cx="644.4" cy="795.6" r="11.3" fill="#4aa0f0"/>
<circle cx="644.4" cy="853.4" r="11.3" fill="#505050"/>
<circle cx="644.4" cy="902.0" r="11.3" fill="#ef3b40"/>
<text x="698.6" y="807.8" font-size="40" text-anchor="start" >MoS<tspan font-size="28" dy="12">2</tspan><tspan dy="-12"> on InSe</tspan></text>
<text x="698.6" y="865.2" font-size="40" text-anchor="start" >P-band</text>
<text x="698.6" y="914.2" font-size="40" text-anchor="start" >InSe A</text>
<text x="6" y="1595" font-size="63" font-weight="bold">d</text>
<rect x="44.00" y="1744.00" width="213.50" height="10.40" fill="#000"/>
<rect x="302.80" y="1834.80" width="289.20" height="10.40" fill="#000"/>
<rect x="671.00" y="1871.40" width="273.00" height="10.20" fill="#000"/>
<rect x="42.50" y="2012.00" width="901.50" height="10.60" fill="#000"/>
<polygon points="138.4,1762.3 157.3,1762.3 157.3,1992.2 167.1,1992.2 147.9,2011 128.6,1992.2 138.4,1992.2" fill="#7cc050" stroke="#5f9c3c" stroke-width="1.2"/>
<polygon points="381.2,1851.2 400,1851.2 400,1986 410,1986 390.6,2006 370,1986 381.2,1986" fill="#e8180f" stroke="#b01010" stroke-width="1"/>
<polygon points="728.6,1890.6 752.6,1890.6 752.6,1983 765.5,1983 740,2007 714.5,1983 728.6,1983" fill="#7a1212" stroke="#4a0808" stroke-width="1"/>
<polygon points="510.20,1849.50 534.90,1849.50 534.90,1967.70 545.90,1967.70 522.65,2005.30 499.40,1967.70 510.20,1967.70" fill="#000"/>
<polygon points="515.60,1854.90 529.50,1854.90 529.50,1973.10 536.21,1973.10 522.65,1995.03 509.09,1973.10 515.60,1973.10" fill="#fff"/>
<polygon points="829.25,1889.00 859.20,1889.00 859.20,1979.50 874.70,1979.50 844.35,2010.00 814.00,1979.50 829.25,1979.50" fill="#000"/>
<polygon points="834.65,1894.40 853.80,1894.40 853.80,1984.90 861.71,1984.90 844.35,2002.34 826.99,1984.90 834.65,1984.90" fill="#fff"/>
<rect x="438.00" y="1891.70" width="174.00" height="36.10" fill="#fff"/>
<rect x="766.00" y="1917.40" width="176.00" height="36.00" fill="#fff"/>
<text x="437.5" y="1924.6" font-size="48.3" text-anchor="start" >non-rad.</text>
<text x="765.0" y="1950.6" font-size="48.8" text-anchor="start" >non-rad.</text>
<text x="75.0" y="1886.5" font-size="48" text-anchor="start" >PL</text>
<text x="308.5" y="1926.0" font-size="48" text-anchor="start" >PL</text>
<text x="660.0" y="1945.5" font-size="48" text-anchor="start" >PL</text>
<text x="61.0" y="1736.3" font-size="38" text-anchor="start" textLength="163" lengthAdjust="spacingAndGlyphs">1.941 eV</text>
<text x="366.0" y="1825.2" font-size="38" text-anchor="start" textLength="166" lengthAdjust="spacingAndGlyphs">1.345 eV</text>
<text x="683.0" y="1867.5" font-size="38" text-anchor="start" textLength="245" lengthAdjust="spacingAndGlyphs">1.31-1.33 eV</text>
<text x="672.0" y="1626.5" font-size="40" text-anchor="start" >Defect-bound</text>
<text x="728.0" y="1675.0" font-size="40" text-anchor="start" >exciton</text>
<polygon points="252.90,1780.30 274.00,1762.50 301.90,1795.80 313.80,1786.70 309.90,1826.90 268.60,1823.40 280.20,1812.90" fill="#000"/>
<polygon points="260.35,1780.95 273.35,1769.98 301.09,1803.09 307.35,1798.30 305.13,1821.18 281.19,1819.15 287.54,1813.41" fill="#fff"/>
<polygon points="600.97,1828.97 645.52,1828.97 633.97,1840.52 648.83,1855.37 659.72,1844.48 659.72,1888.38 615.82,1888.38 626.88,1877.32 612.03,1862.47 600.97,1873.52" fill="#000"/>
<polygon points="606.37,1834.37 632.48,1834.37 626.33,1840.52 648.83,1863.01 654.32,1857.52 654.32,1882.98 628.86,1882.98 634.52,1877.32 612.03,1854.83 606.37,1860.49" fill="#fff"/>
<defs>
<radialGradient id="gGreen" cx="0.5" cy="0.5" r="0.5">
 <stop offset="0" stop-color="#9cd25c" stop-opacity="1"/>
 <stop offset="0.6" stop-color="#9cd25c" stop-opacity="0.9"/>
 <stop offset="0.8" stop-color="#b5de88" stop-opacity="0.5"/>
 <stop offset="1" stop-color="#d8eec0" stop-opacity="0"/>
</radialGradient>
<radialGradient id="gRed" cx="0.5" cy="0.5" r="0.5">
 <stop offset="0" stop-color="#801414" stop-opacity="0.95"/>
 <stop offset="0.55" stop-color="#861a1a" stop-opacity="0.85"/>
 <stop offset="0.8" stop-color="#9a4a4a" stop-opacity="0.45"/>
 <stop offset="1" stop-color="#c8a0a0" stop-opacity="0"/>
</radialGradient>
<radialGradient id="gBrown" cx="0.5" cy="0.5" r="0.5">
 <stop offset="0" stop-color="#8a4513" stop-opacity="1"/>
 <stop offset="0.7" stop-color="#8a4513" stop-opacity="1"/>
 <stop offset="0.85" stop-color="#9a6a40" stop-opacity="0.6"/>
 <stop offset="1" stop-color="#c8b8a8" stop-opacity="0"/>
</radialGradient>
</defs>
<ellipse cx="149" cy="1667" rx="73" ry="37" fill="url(#gGreen)"/>
<ellipse cx="148.5" cy="1667.4" rx="50" ry="21.6" fill="#ebf7e0" stroke="#000" stroke-width="1.6"/>
<circle cx="113.2" cy="1667.9" r="17.6" fill="#3d7dd2"/>
<rect x="-6.5" y="-2.7" width="13.0" height="5.4" fill="#fff" rx="1" transform="translate(110.2,1667.9) rotate(0)"/>
<circle cx="183.9" cy="1667.9" r="18" fill="#f01a14"/>
<rect x="172.4" y="1665.2" width="23.0" height="5.4" fill="#fff"/><rect x="181.20000000000002" y="1656.4" width="5.4" height="23.0" fill="#fff"/>
<ellipse cx="531.5" cy="1692" rx="29" ry="92" fill="url(#gRed)"/>
<ellipse cx="531" cy="1696.8" rx="15.2" ry="37" fill="#f2d8dc" stroke="#000" stroke-width="1.6"/>
<circle cx="530.9" cy="1662.6" r="15.7" fill="#f01a14"/>
<rect x="519.4" y="1659.8999999999999" width="23.0" height="5.4" fill="#fff"/><rect x="528.1999999999999" y="1651.1" width="5.4" height="23.0" fill="#fff"/>
<circle cx="530.9" cy="1731.6" r="15.7" fill="#3d7dd2"/>
<rect x="-6.5" y="-2.7" width="13.0" height="5.4" fill="#fff" rx="1" transform="translate(531.1999999999999,1731.6) rotate(0)"/>
<circle cx="789" cy="1756.4" r="79" fill="url(#gBrown)"/>
<ellipse cx="790" cy="1758.6" rx="35" ry="40.2" transform="rotate(-20 790 1758.6)" fill="#e8d6cc" stroke="#000" stroke-width="1.6"/>
<circle cx="808" cy="1732.1" r="15" fill="#f01a14"/>
<rect x="796.5" y="1729.3999999999999" width="23.0" height="5.4" fill="#fff"/><rect x="805.3" y="1720.6" width="5.4" height="23.0" fill="#fff"/>
<circle cx="761.2" cy="1757.3" r="15.3" fill="#3d7dd2"/>
<rect x="-6.5" y="-2.7" width="13.0" height="5.4" fill="#fff" rx="1" transform="translate(760.7,1757.3) rotate(-22)"/>
<rect x="-19.2" y="-19.2" width="38.4" height="38.4" transform="translate(802.4,1791.8) rotate(-22)" fill="#e8843c" stroke="#c06a28" stroke-width="1"/>
<text transform="translate(91.5,1614.8) scale(0.82,1)" x="0" y="0" style="font-family:'Liberation Serif',serif;font-style:italic" font-size="49.8">A</text>
<text x="120.2" y="1622.9" style="font-family:'Liberation Serif',serif;font-style:italic" font-size="36">MoS</text>
<text x="189.6" y="1628.3" style="font-family:'Liberation Serif',serif" font-size="27">2</text>
<text transform="translate(380,1699.6) scale(0.885,1)" x="0" y="0" style="font-family:'Liberation Serif',serif;font-style:italic" font-size="47.3">A</text>
<text x="409.6" y="1708.6" style="font-family:'Liberation Serif',serif;font-style:italic" font-size="37">InSe</text>
</svg></body></html>
